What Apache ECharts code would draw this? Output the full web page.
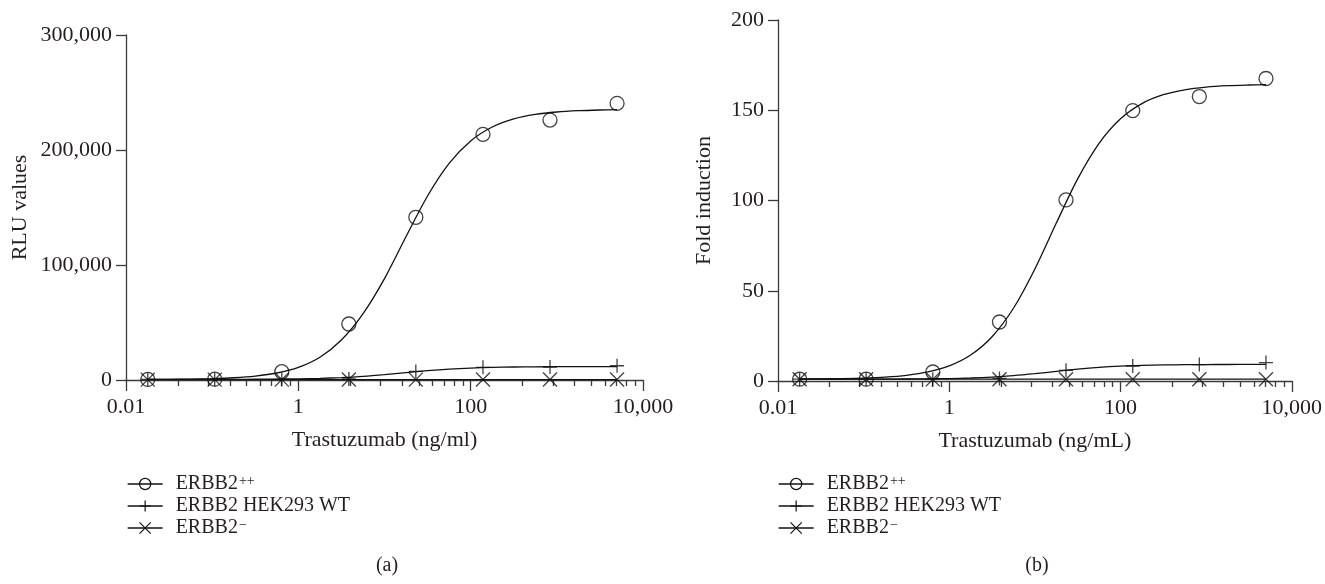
<!DOCTYPE html>
<html>
<head>
<meta charset="utf-8">
<script src="https://cdn.jsdelivr.net/npm/echarts@6/dist/echarts.min.js"></script>
<style>
html,body{margin:0;padding:0;background:#fff;}
#chart{width:1325px;height:584px;}
</style>
</head>
<body>
<div id="chart"></div>
<script>
// ---- data ----
const conc = [0.0179, 0.107, 0.643, 3.86, 23.1, 139, 833, 5000];

const rluHigh = [500, 700, 7200, 48700, 141500, 213600, 226000, 240600];
const rluWT   = [500, 500, 500, 900, 7500, 11000, 11200, 12400];
const rluNeg  = [300, 300, 300, 400, 300, 400, 400, 400];

const foldHigh = [1.0, 1.0, 5.0, 32.7, 100.3, 149.8, 157.6, 167.6];
const foldWT   = [1.0, 1.0, 1.0, 1.4, 5.9, 8.3, 9.1, 10.2];
const foldNeg  = [1.0, 1.0, 0.9, 1.0, 1.0, 1.0, 1.0, 1.0];

// fitted curves
const curveX = [0.0179, 0.0316, 0.0562, 0.1, 0.178, 0.316, 0.562, 1, 1.78, 3.16, 5.62, 10, 17.8, 31.6, 56.2, 100, 178, 316, 562, 1000, 1780, 3160, 5000];

const rluHighFit = [432, 549, 770, 1180, 1960, 3400, 6080, 10940, 19800, 34800, 57500, 88150, 124740, 160000, 188330, 207860, 219980, 226980, 230900, 233030, 234180, 234800, 235080];
const rluWTFit   = [506, 512, 522, 542, 579, 648, 776, 1006, 1417, 2112, 3192, 4683, 6425, 8105, 9454, 10384, 10961, 11295, 11481, 11583, 11637, 11667, 11680];
const rluNegFit  = [300, 300, 300, 300, 300, 300, 300, 300, 300, 300, 300, 300, 300, 300, 300, 300, 300, 300, 300, 300, 300, 300, 300];

const foldHighFit = [1.09, 1.17, 1.33, 1.61, 2.15, 3.16, 5.02, 8.39, 14.39, 24.53, 40.31, 62.07, 87.49, 112.0, 131.7, 145.3, 153.7, 158.6, 161.3, 162.8, 163.6, 164.0, 164.2];
const foldWTFit   = [1.00, 1.01, 1.02, 1.03, 1.06, 1.11, 1.20, 1.37, 1.67, 2.18, 2.97, 4.06, 5.34, 6.57, 7.56, 8.24, 8.66, 8.90, 9.04, 9.11, 9.15, 9.18, 9.19];
const foldNegFit  = [1.0, 1.0, 1.0, 1.0, 1.0, 1.0, 1.0, 1.0, 1.0, 1.0, 1.0, 1.0, 1.0, 1.0, 1.0, 1.0, 1.0, 1.0, 1.0, 1.0, 1.0, 1.0, 1.0];

// axis ticks / labels
const xTickLabels = {'-2': '0.01', '0': '1', '2': '100', '4': '10,000'};
const xMinorTicks = [0.04, 0.09, 0.16, 0.25, 0.36, 0.49, 0.64, 0.81,
                     4, 9, 16, 25, 36, 49, 64, 81,
                     400, 900, 1600, 2500, 3600, 4900, 6400, 8100];
const seriesNames = ['ERBB2++', 'ERBB2 HEK293 WT', 'ERBB2-'];
const legendLabels = {
  'ERBB2++': '{b|ERBB2}{s|++}',
  'ERBB2 HEK293 WT': '{b|ERBB2 HEK293 WT}',
  'ERBB2-': '{b|ERBB2}{s|\u2212}'
};
const yLabelsLeft = {0: '0', 100000: '100,000', 200000: '200,000', 300000: '300,000'};

// ---- styling ----
const FONT = 'Liberation Serif';
const TXT = '#231f20';
const AX = '#3a3a3a';
const symbols = [
  'circle',
  'path://M5,0L5,10M0,5L10,5',
  'path://M0,0L10,10M10,0L0,10'
];
const symSizes = [14, 14, 14];

function zip(xs, ys) { return xs.map((x, i) => [x, ys[i]]); }

function makeXAxes(gridIndex, name) {
  return [
    {
      type: 'log', logBase: 100, gridIndex, min: 0.01, max: 10000, position: 'bottom',
      name, nameLocation: 'middle', nameGap: 49,
      nameTextStyle: {fontFamily: FONT, fontSize: 22, color: TXT},
      axisLine: {lineStyle: {color: AX, width: 1.3}, onZero: false},
      axisTick: {length: 11, lineStyle: {color: AX, width: 1.3}},
      axisLabel: {fontFamily: FONT, fontSize: 22, color: TXT, margin: 16,
        formatter: v => xTickLabels[String(Math.round(Math.log10(v)))] || ''},
      splitLine: {show: false}, minorTick: {show: false}
    },
    {
      type: 'log', logBase: 100, gridIndex, min: 0.01, max: 10000, position: 'bottom',
      axisLine: {show: false, onZero: false},
      axisTick: {length: 6, lineStyle: {color: AX, width: 1.3}, customValues: xMinorTicks},
      axisLabel: {show: false},
      splitLine: {show: false}
    }
  ];
}

function makeYAxis(gridIndex, name, max, interval, nameGap, fmt) {
  return {
    type: 'value', gridIndex, min: 0, max, interval,
    name, nameLocation: 'middle', nameGap,
    nameTextStyle: {fontFamily: FONT, fontSize: 22, color: TXT},
    axisLine: {show: true, lineStyle: {color: AX, width: 1.3}},
    axisTick: {show: true, length: 10, lineStyle: {color: AX, width: 1.3}},
    axisLabel: {fontFamily: FONT, fontSize: 22, color: TXT, margin: 14, formatter: fmt},
    splitLine: {show: false}
  };
}

function makeSeries(xAxisIndex, yAxisIndex, points, fits) {
  const out = [];
  seriesNames.forEach((nm, i) => {
    out.push({
      type: 'line', name: nm, xAxisIndex, yAxisIndex,
      data: zip(curveX, fits[i]), smooth: 0.3,
      symbol: symbols[i], symbolSize: symSizes[i], showSymbol: false,
      itemStyle: {color: 'rgba(0,0,0,0)', borderColor: '#111', borderWidth: 1.2},
      lineStyle: {color: '#111', width: 1.3},
      silent: true, z: 2
    });
  });
  seriesNames.forEach((nm, i) => {
    out.push({
      type: 'scatter', name: nm, xAxisIndex, yAxisIndex,
      data: zip(conc, points[i]),
      symbol: symbols[i], symbolSize: symSizes[i],
      itemStyle: {color: 'rgba(0,0,0,0)', borderColor: '#111', borderWidth: 1.3},
      silent: true, z: 3
    });
  });
  return out;
}

function makeLegend(left) {
  return {
    orient: 'vertical', left, top: 474, padding: 0, itemWidth: 35, itemHeight: 14, itemGap: 2,
    data: seriesNames, selectedMode: false,
    itemStyle: {borderWidth: 1.2},
    lineStyle: {width: 1.3},
    formatter: n => legendLabels[n],
    textStyle: {
      fontFamily: FONT, fontSize: 20, color: TXT,
      rich: {
        b: {fontFamily: FONT, fontSize: 20, color: TXT, padding: [0, 0, 0, 8]},
        s: {fontFamily: FONT, fontSize: 14, color: TXT, verticalAlign: 'top', padding: [0, 0, 0, 1]}
      }
    }
  };
}

const chart = echarts.init(document.getElementById('chart'), null, {renderer: 'canvas'});
chart.setOption({
  animation: false,
  backgroundColor: '#fff',
  grid: [
    {left: 126, right: 682, top: 35, bottom: 204},
    {left: 778, right: 29, top: 20, bottom: 203}
  ],
  xAxis: [...makeXAxes(0, 'Trastuzumab (ng/ml)'), ...makeXAxes(1, 'Trastuzumab (ng/mL)')],
  yAxis: [
    makeYAxis(0, 'RLU values', 300000, 100000, 95, v => yLabelsLeft[v] !== undefined ? yLabelsLeft[v] : String(v)),
    makeYAxis(1, 'Fold induction', 200, 50, 63, v => String(v))
  ],
  legend: [makeLegend(127), makeLegend(778)],
  series: [
    ...makeSeries(0, 0, [rluHigh, rluWT, rluNeg], [rluHighFit, rluWTFit, rluNegFit]),
    ...makeSeries(2, 1, [foldHigh, foldWT, foldNeg], [foldHighFit, foldWTFit, foldNegFit])
  ],
  graphic: [
    {type: 'text', x: 387, y: 566, style: {text: '(a)', font: '20px "Liberation Serif"', fill: TXT, textAlign: 'center', textVerticalAlign: 'middle'}},
    {type: 'text', x: 1037, y: 566, style: {text: '(b)', font: '20px "Liberation Serif"', fill: TXT, textAlign: 'center', textVerticalAlign: 'middle'}}
  ]
});
</script>
</body>
</html>
